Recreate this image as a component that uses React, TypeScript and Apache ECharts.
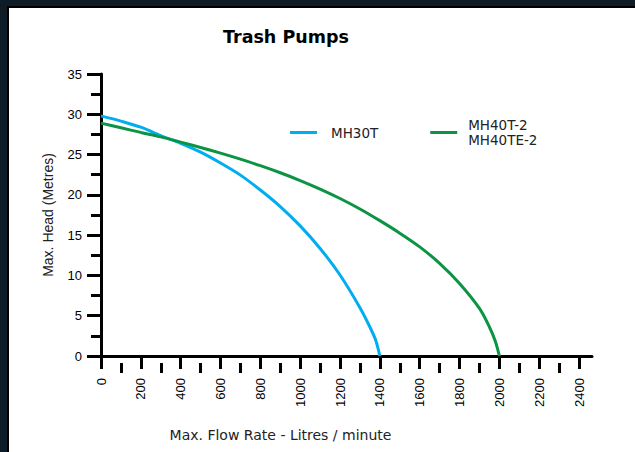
import React, { useEffect, useRef } from "react";
import * as echarts from "echarts";

const titleText = "Trash Pumps";
const xAxisName = "Max. Flow Rate - Litres / minute";
const yAxisName = "Max. Head (Metres)";

const seriesNames = ["MH30T", "MH40T-2\nMH40TE-2"];
const seriesColors = ["#00aeef", "#0b9444"];

const mh30tFlow = [0, 100, 200, 300, 400, 500, 600, 700, 800, 900, 1000, 1100, 1200, 1300, 1350, 1380, 1400];
const mh30tHead = [29.8, 29.15, 28.4, 27.35, 26.4, 25.3, 23.95, 22.45, 20.6, 18.55, 16.15, 13.35, 10.05, 6.0, 3.6, 1.9, 0];

const mh40tFlow = [0, 100, 200, 300, 400, 500, 600, 700, 800, 900, 1000, 1100, 1200, 1300, 1400, 1500, 1600, 1700, 1800, 1900, 1950, 1980, 2000];
const mh40tHead = [28.9, 28.33, 27.75, 27.2, 26.55, 25.88, 25.18, 24.43, 23.62, 22.74, 21.78, 20.72, 19.55, 18.25, 16.8, 15.25, 13.55, 11.5, 9.0, 5.9, 3.6, 1.8, 0];

const xMajorTicks = [0, 200, 400, 600, 800, 1000, 1200, 1400, 1600, 1800, 2000, 2200, 2400];
const xMinorTicks = [100, 300, 500, 700, 900, 1100, 1300, 1500, 1700, 1900, 2100, 2300];
const xMin = 0;
const xMax = 2465;
const yMin = 0;
const yMax = 35;
const yInterval = 5;

export default function App() {
  const ref = useRef<HTMLDivElement>(null);
  useEffect(() => {
    document.documentElement.style.background = "#ffffff";
    document.body.style.margin = "0";
    document.body.style.overflow = "hidden";
    const chart = echarts.init(ref.current!, undefined, { renderer: "svg" });
    const pairs = (xs: number[], ys: number[]) => xs.map((x, i) => [x, ys[i]]);
    const tickStyle = { color: "#000", width: 3 };
    chart.setOption({
      animation: false,
      backgroundColor: "#ffffff",
      title: {
        text: titleText,
        left: 209,
        top: 15,
        textStyle: { fontFamily: "DejaVu Sans", fontWeight: "bold", fontSize: 17.5, color: "#000" },
      },
      legend: {
        left: 276,
        top: 97,
        orient: "horizontal",
        selectedMode: false,
        icon: "rect",
        itemWidth: 27,
        itemHeight: 3,
        itemGap: 52,
        textStyle: { fontFamily: "DejaVu Sans", fontSize: 13.5, color: "#222", lineHeight: 15 },
        data: [
          { name: seriesNames[0], textStyle: { padding: [0, 0, 0, 9] } },
          { name: seriesNames[1], textStyle: { padding: [15, 0, 0, 6] } },
        ],
      },
      grid: { left: 92, top: 66, right: 43, bottom: 96, containLabel: false },
      xAxis: [
        {
          type: "value",
          min: xMin,
          max: xMax,
          axisLine: { show: true, lineStyle: { color: "#000", width: 3 } },
          axisTick: { show: false },
          axisLabel: { show: false },
          splitLine: { show: false },
          name: xAxisName,
          nameLocation: "middle",
          nameGap: 72,
          nameTextStyle: { fontFamily: "DejaVu Sans", fontSize: 14, color: "#222", padding: [0, 132, 0, 0] },
        },
        {
          type: "value",
          min: xMin,
          max: xMax,
          offset: 7,
          position: "bottom",
          axisLine: { show: false },
          axisTick: { show: true, length: 13, lineStyle: tickStyle, customValues: xMajorTicks },
          axisLabel: {
            show: true,
            rotate: 90,
            margin: 15,
            customValues: xMajorTicks,
            formatter: (v: number) => String(v),
            fontFamily: "Liberation Sans",
            fontSize: 13,
            color: "#000",
          },
          splitLine: { show: false },
        },
        {
          type: "value",
          min: xMin,
          max: xMax,
          offset: 7,
          position: "bottom",
          axisLine: { show: false },
          axisTick: { show: true, length: 10, lineStyle: tickStyle, customValues: xMinorTicks },
          axisLabel: { show: false },
          splitLine: { show: false },
        },
      ],
      yAxis: [
        {
          type: "value",
          min: yMin,
          max: yMax,
          interval: yInterval,
          axisLine: { show: true, lineStyle: { color: "#000", width: 3 } },
          axisTick: { show: false },
          axisLabel: { show: false },
          splitLine: { show: false },
          name: yAxisName,
          nameLocation: "middle",
          nameGap: 46,
          nameTextStyle: { fontFamily: "Liberation Sans", fontSize: 14, color: "#222" },
        },
        {
          type: "value",
          min: yMin,
          max: yMax,
          interval: yInterval,
          offset: 4,
          position: "left",
          axisLine: { show: false },
          axisTick: { show: true, length: 14, lineStyle: tickStyle },
          minorTick: { show: true, splitNumber: 2, length: 10, lineStyle: tickStyle },
          axisLabel: { show: true, margin: 15, fontFamily: "Liberation Sans", fontSize: 13, color: "#000" },
          splitLine: { show: false },
        },
      ],
      series: [
        {
          name: seriesNames[0],
          type: "line",
          xAxisIndex: 0,
          yAxisIndex: 0,
          data: pairs(mh30tFlow, mh30tHead),
          smooth: 0.3,
          showSymbol: false,
          lineStyle: { color: seriesColors[0], width: 3 },
          itemStyle: { color: seriesColors[0] },
        },
        {
          name: seriesNames[1],
          type: "line",
          xAxisIndex: 0,
          yAxisIndex: 0,
          data: pairs(mh40tFlow, mh40tHead),
          smooth: 0.3,
          showSymbol: false,
          lineStyle: { color: seriesColors[1], width: 3 },
          itemStyle: { color: seriesColors[1] },
        },
      ],
    });
    return () => chart.dispose();
  }, []);
  return (
    <div style={{ position: "fixed", left: 0, top: 0, width: 700, height: 500, background: "#0e1c28", overflow: "hidden" }}>
      <div
        style={{
          position: "absolute",
          left: 7,
          top: 6,
          width: 690,
          height: 490,
          borderLeft: "2px solid #000",
          borderTop: "2px solid #000",
          background: "#fff",
        }}
      >
        <div ref={ref} style={{ width: 626, height: 444 }} />
      </div>
    </div>
  );
}
